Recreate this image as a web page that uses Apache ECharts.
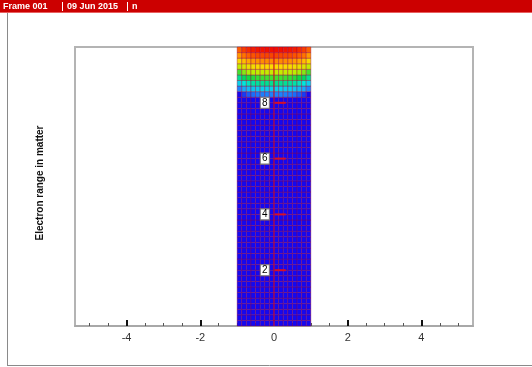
<!DOCTYPE html>
<html>
<head>
<meta charset="utf-8">
<script src="https://cdn.jsdelivr.net/npm/echarts@6/dist/echarts.min.js"></script>
<style>
  html, body { margin: 0; padding: 0; background: #fff; }
  #chart { width: 532px; height: 367px; }
</style>
</head>
<body>
<div id="chart"></div>
<script>
// mesh of the column: x from -1 to 1, y from 0 to 10
const colEdges = [-1, -0.875, -0.75, -0.625, -0.5, -0.375, -0.25, -0.125, 0,
                  0.125, 0.25, 0.375, 0.5, 0.625, 0.75, 0.875, 1];
const rowStep = 0.2;
const rowCount = 50;

// level (0..1) of the top rows, from the top row (9.8-10) downwards; rest is 0
const topRowLevels = [1.0, 0.92, 0.82, 0.71, 0.6, 0.48, 0.36, 0.24, 0.12];
// how much lower the level is in each column (edges drop, centre is flat)
const colDrop = [0.12, 0.07, 0.04, 0.022, 0.01, 0.004, 0, 0,
                 0, 0, 0.004, 0.01, 0.022, 0.04, 0.07, 0.12];

// contour labels along x = 0
const contourValues = [2, 4, 6, 8];

const xMajor = [-4, -2, 0, 2, 4];
const xMinor = [-5, -4.5, -3.5, -3, -2.5, -1.5, -1, -0.5, 0.5, 1, 1.5, 2.5, 3, 3.5, 4.5, 5];

const cells = [];
for (let r = 0; r < rowCount; r++) {
    const y0 = r * rowStep, y1 = (r + 1) * rowStep;
    const fromTop = rowCount - 1 - r;
    for (let c = 0; c < colEdges.length - 1; c++) {
        let v = 0;
        if (fromTop < topRowLevels.length) {
            v = Math.max(0, topRowLevels[fromTop] - colDrop[c]);
        }
        cells.push([colEdges[c], colEdges[c + 1], y0, y1, v]);
    }
}

// [x0, y0, x1, y1, width, opacity]
const marks = contourValues.map(v => [0.02, v, 0.32, v, 2, 0.95]);
marks.push([0, 0, 0, 10, 1.2, 0.7]);

const chart = echarts.init(document.getElementById('chart'));

chart.setOption({
    animation: false,
    backgroundColor: '#fff',
    grid: {
        left: 75, top: 47, right: 59, bottom: 41,
        show: true, borderColor: '#b4b4b4', borderWidth: 2, backgroundColor: 'transparent'
    },
    xAxis: [{
        type: 'value', min: -5.4, max: 5.4,
        axisLine: { onZero: false, lineStyle: { color: '#a8a8a8', width: 2 } },
        axisTick: { inside: true, length: 6, customValues: xMajor, lineStyle: { color: '#111', width: 2 } },
        axisLabel: { customValues: xMajor, color: '#333', fontSize: 11, fontFamily: 'Liberation Sans', margin: 6 },
        splitLine: { show: false }
    }, {
        type: 'value', min: -5.4, max: 5.4, position: 'bottom',
        axisLine: { show: false },
        axisTick: { inside: true, length: 3, customValues: xMinor, lineStyle: { color: '#555', width: 1 } },
        axisLabel: { show: false },
        splitLine: { show: false }
    }],
    yAxis: {
        type: 'value', min: 0, max: 10,
        axisLine: { show: false }, axisTick: { show: false },
        axisLabel: { show: false }, splitLine: { show: false }
    },
    visualMap: {
        show: false, seriesIndex: 0, dimension: 4, min: 0, max: 1,
        inRange: { color: ['#1408f0', '#1c9cff', '#00e8e0', '#00d84a', '#b8f000', '#ffd800', '#ff7000', '#f01000'] }
    },
    graphic: [
        { type: 'rect', shape: { x: 0, y: 0, width: 532, height: 13 }, style: { fill: '#cc0000' } },
        { type: 'rect', shape: { x: 0, y: 12, width: 532, height: 1 }, style: { fill: '#e86060' } },
        { type: 'text', x: 3, y: 6.5, style: { text: 'Frame 001', fill: '#fff', font: 'bold 9px "Liberation Sans"', verticalAlign: 'middle' } },
        { type: 'rect', shape: { x: 62, y: 2, width: 1, height: 9 }, style: { fill: '#fff' } },
        { type: 'text', x: 67, y: 6.5, style: { text: '09 Jun 2015', fill: '#fff', font: 'bold 9px "Liberation Sans"', verticalAlign: 'middle' } },
        { type: 'rect', shape: { x: 127, y: 2, width: 1, height: 9 }, style: { fill: '#fff' } },
        { type: 'text', x: 132, y: 6.5, style: { text: 'n', fill: '#fff', font: 'bold 9px "Liberation Sans"', verticalAlign: 'middle' } },
        { type: 'line', shape: { x1: 7.5, y1: 13, x2: 7.5, y2: 366 }, style: { stroke: '#8a8a8a', lineWidth: 1 } },
        { type: 'line', shape: { x1: 7, y1: 365.5, x2: 532, y2: 365.5 }, style: { stroke: '#8a8a8a', lineWidth: 1 } },
        {
            type: 'text', x: 40, y: 183, rotation: Math.PI / 2,
            style: { text: 'Electron range in matter', fill: '#111', font: 'bold 10px "Liberation Sans"', align: 'center', verticalAlign: 'middle' }
        }
    ],
    series: [{
        type: 'custom',
        data: cells,
        encode: { x: [0, 1], y: [2, 3] },
        renderItem: (params, api) => {
            const p0 = api.coord([api.value(0), api.value(3)]);
            const p1 = api.coord([api.value(1), api.value(2)]);
            return {
                type: 'rect',
                shape: { x: p0[0], y: p0[1], width: p1[0] - p0[0], height: p1[1] - p0[1] },
                style: { fill: api.visual('color'), stroke: 'rgba(150,0,60,0.38)', lineWidth: 1 }
            };
        }
    }, {
        type: 'custom',
        data: marks,
        encode: { x: [0, 2], y: [1, 3] },
        z: 3,
        renderItem: (params, api) => {
            const a = api.coord([api.value(0), api.value(1)]);
            const b = api.coord([api.value(2), api.value(3)]);
            return {
                type: 'line',
                shape: { x1: a[0], y1: a[1], x2: b[0], y2: b[1] },
                style: { stroke: '#e0101e', lineWidth: api.value(4), opacity: api.value(5) }
            };
        }
    }, {
        type: 'scatter',
        z: 4,
        data: contourValues.map(v => [-0.25, v]),
        symbol: 'rect',
        symbolSize: [9, 11],
        itemStyle: { color: '#fff', borderColor: '#777', borderWidth: 1, opacity: 1 },
        label: {
            show: true, position: 'inside', formatter: p => String(p.value[1]),
            color: '#000', fontSize: 10, fontFamily: 'Liberation Sans'
        }
    }]
});
</script>
</body>
</html>
